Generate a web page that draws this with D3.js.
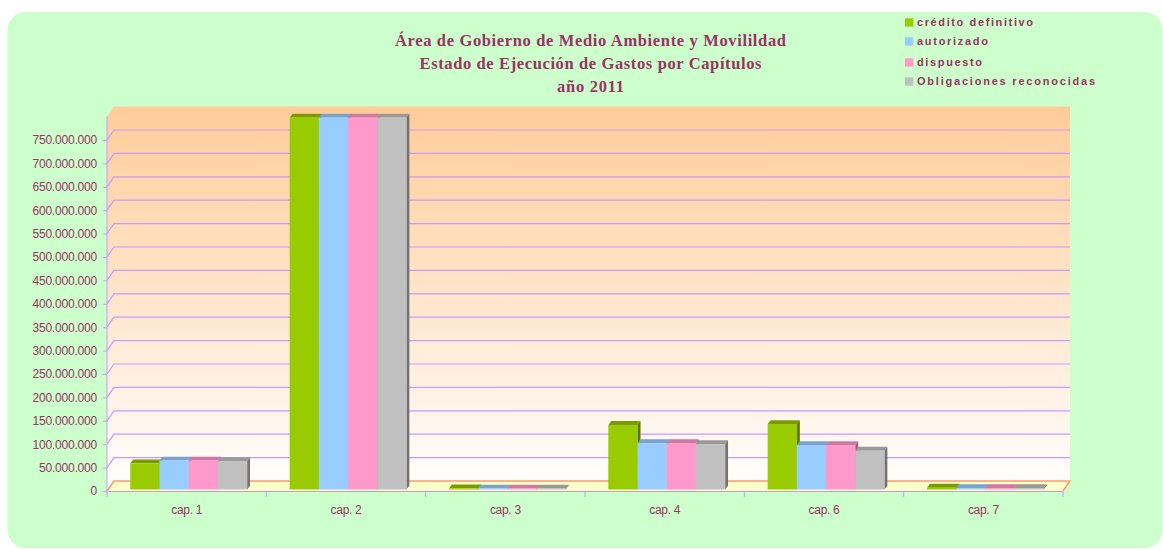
<!DOCTYPE html>
<html><head><meta charset="utf-8">
<script src="https://cdn.jsdelivr.net/npm/d3@7"></script>
<style>html,body{margin:0;padding:0;background:#fff;}svg{display:block;}</style>
</head><body>
<script>
const categories = ["cap. 1","cap. 2","cap. 3","cap. 4","cap. 6","cap. 7"];
const seriesNames = ["crédito definitivo","autorizado","dispuesto","Obligaciones reconocidas"];
const creditoDefinitivo = [56e6, 795e6, 2.5e6, 138e6, 140e6, 4e6];
const autorizado = [62e6, 795e6, 2e6, 99e6, 95e6, 3e6];
const dispuesto = [62e6, 795e6, 2e6, 99e6, 95e6, 3e6];
const obligaciones = [61e6, 795e6, 2e6, 97e6, 83e6, 3e6];
const yTicks = [0,50e6,100e6,150e6,200e6,250e6,300e6,350e6,400e6,450e6,500e6,550e6,600e6,650e6,700e6,750e6];
const titleLines = ["Área de Gobierno de Medio Ambiente y Movilildad","Estado de Ejecución de Gastos por Capítulos","año 2011"];

const seriesValues = [creditoDefinitivo, autorizado, dispuesto, obligaciones];
const frontCol = ["#99CC00","#99CCFF","#FF99CC","#C0C0C0"];
const topCol = ["#7A9A00","#77A3CC","#CC7AA3","#999999"];
const sideCol = ["#5C7300","#5C7A99","#995C7A","#737373"];

const W = 1163, H = 550;
const svg = d3.select("body").append("svg").attr("width", W).attr("height", H);
const defs = svg.append("defs");
const g0 = defs.append("linearGradient").attr("id","wall").attr("x1",0).attr("y1",0).attr("x2",0).attr("y2",1);
g0.append("stop").attr("offset","0%").attr("stop-color","#FFCC99");
g0.append("stop").attr("offset","100%").attr("stop-color","#FFFFFF");

svg.append("rect").attr("x",7.5).attr("y",12).attr("width",1155).attr("height",536).attr("rx",18).attr("fill","#CCFFCC");

const DX = 7, DY = -10;           // wall depth
const x = d3.scaleBand().domain(categories).range([107,1063]);
const x1 = d3.scaleBand().domain(seriesNames).range([0, x.bandwidth()]).paddingInner(0).paddingOuter(0.73);
const y = d3.scaleLinear().domain([0, 800e6]).range([491, 116.6]);
const x0 = 107, xR = 1063;

// walls
const yTop = y(800e6), yZero = y(0);
svg.append("polygon").attr("fill","url(#wall)")
  .attr("points", [[x0,yTop],[x0+DX,yTop+DY],[xR+DX,yTop+DY],[xR+DX,yZero+DY],[x0,yZero]].map(p=>p.join(",")).join(" "));
// floor
svg.append("polygon").attr("fill","#FFFFCC")
  .attr("points", [[x0,yZero],[x0+DX,yZero+DY],[xR+DX,yZero+DY],[xR,yZero]].map(p=>p.join(",")).join(" "));

// gridlines
const grid = svg.append("g").attr("fill","none").attr("stroke","#CC99FF").attr("stroke-width",1.2);
yTicks.filter(v=>v>0).forEach(v=>{
  grid.append("path").attr("d", `M${x0},${y(v)}L${x0+DX},${y(v)+DY}L${xR+DX},${y(v)+DY}`);
});
svg.append("path").attr("fill","none").attr("stroke","#FF9966").attr("stroke-width",1.5)
  .attr("d", `M${x0},${yZero}L${x0+DX},${yZero+DY}L${xR+DX},${yZero+DY}L${xR},${yZero}`);

// y axis
const loc = d3.formatLocale({decimal:",", thousands:".", grouping:[3], currency:["","€"]});
const fmt = loc.format(",d");
const yAxis = svg.append("g").attr("transform",`translate(${x0},0)`)
  .call(d3.axisLeft(y).tickValues(yTicks).tickSize(4).tickPadding(6).tickFormat(fmt));
yAxis.select(".domain").attr("d", `M0,${yTop}V${yZero}`).attr("stroke","#CC99FF");
yAxis.selectAll(".tick line").attr("stroke","#CC99FF");
yAxis.selectAll(".tick text").attr("fill","#993366").attr("font-family","Liberation Sans, Arial, sans-serif").attr("font-size",12).attr("letter-spacing",-0.2);

// x axis
const xAxis = svg.append("g").attr("transform",`translate(0,${yZero})`)
  .call(d3.axisBottom(x).tickSize(0).tickPadding(14));
xAxis.select(".domain").attr("stroke","#CC99CC");
xAxis.selectAll(".tick text").attr("fill","#993366").attr("font-family","Liberation Sans, Arial, sans-serif").attr("font-size",12).attr("letter-spacing",-0.3);
const bounds = categories.map(c=>x(c)).concat([xR]);
xAxis.selectAll("line.bnd").data(bounds).enter().append("line").attr("class","bnd")
  .attr("x1",d=>d).attr("x2",d=>d).attr("y1",0).attr("y2",6).attr("stroke","#CC99FF");

// bars
const SDX = 2, SDY = -1.5, BDX = 3, BDY = -3.8;
const bars = svg.append("g");
categories.forEach((c,ci)=>{
  seriesNames.forEach((s,si)=>{
    const v = seriesValues[si][ci];
    const bx = x(c) + x1(s) + SDX, bw = x1.bandwidth();
    const bt = y(v) + SDY, bb = y(0) + SDY;
    bars.append("polygon").attr("fill", sideCol[si])
      .attr("points", [[bx+bw,bt],[bx+bw+BDX,bt+BDY],[bx+bw+BDX,bb+BDY],[bx+bw,bb]].map(p=>p.join(",")).join(" "));
    bars.append("polygon").attr("fill", topCol[si])
      .attr("points", [[bx,bt],[bx+BDX,bt+BDY],[bx+bw+BDX,bt+BDY],[bx+bw,bt]].map(p=>p.join(",")).join(" "));
    bars.append("rect").attr("x",bx).attr("y",bt).attr("width",bw+0.3).attr("height",bb-bt).attr("fill",frontCol[si]);
  });
});

// title
const tW = [391, 342, 67], tY = [46, 68.5, 92];
svg.append("g").selectAll("text").data(titleLines).enter().append("text")
  .attr("x",590.5).attr("y",(d,i)=>tY[i]).attr("text-anchor","middle")
  .attr("font-family","Liberation Serif, Times New Roman, serif").attr("font-weight","bold").attr("font-size",16.5)
  .attr("fill","#993366").attr("textLength",(d,i)=>tW[i]).attr("lengthAdjust","spacing").text(d=>d);

// legend
const lgTop = [18.3, 37.3, 58.3, 77.3], lgW = [116, 71, 65, 178];
const lg = svg.append("g");
seriesNames.forEach((s,i)=>{
  lg.append("rect").attr("x",905).attr("y",lgTop[i]).attr("width",8.3).attr("height",8.3).attr("fill",frontCol[i]);
  lg.append("text").attr("x",917).attr("y",lgTop[i]+8).attr("fill","#993366")
    .attr("font-family","Liberation Sans, Arial, sans-serif").attr("font-weight","bold").attr("font-size",11)
    .attr("textLength",lgW[i]).attr("lengthAdjust","spacing").text(s);
});
</script>
</body></html>
